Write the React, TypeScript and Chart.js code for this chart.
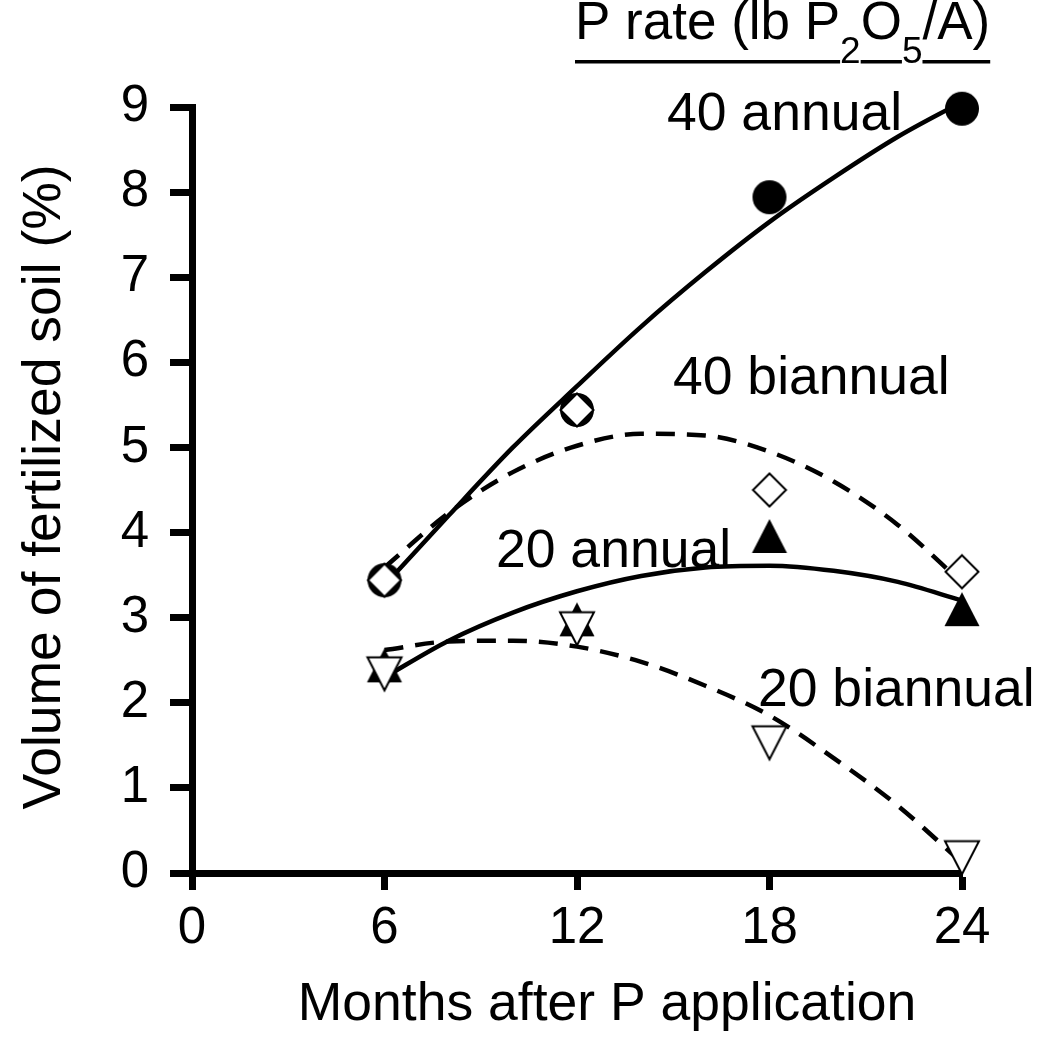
import { useEffect, useRef } from "react";
import { Chart, registerables } from "chart.js";

Chart.register(...registerables);

const FONT = "'Liberation Sans', Arial, Helvetica, sans-serif";

// Sampling times (months after P application)
const months = [6, 12, 18, 24];

// Measured volume of fertilized soil (%)
const annual40 = [3.44, 5.44, 7.94, 8.98];
const biannual40 = [3.44, 5.44, 4.5, 3.54];
const annual20 = [2.44, 2.98, 3.96, 3.1];
const biannual20 = [2.34, 2.87, 1.53, 0.18];

// Fitted trend curves, sampled every two months
const curveMonths = [6, 8, 10, 12, 14, 16, 18, 20, 22, 24];
const annual40Fit = [3.38, 4.2, 5.0, 5.72, 6.42, 7.06, 7.65, 8.17, 8.65, 9.06];
const biannual40Fit = [3.59, 4.23, 4.71, 5.02, 5.16, 5.14, 4.95, 4.6, 4.09, 3.41];
const annual20Fit = [2.3, 2.73, 3.06, 3.31, 3.49, 3.59, 3.61, 3.55, 3.42, 3.2];
const biannual20Fit = [2.62, 2.72, 2.73, 2.66, 2.48, 2.2, 1.85, 1.35, 0.79, 0.12];

// Axis ticks
const xTicks = [0, 6, 12, 18, 24];
const yTicks = [0, 1, 2, 3, 4, 5, 6, 7, 8, 9];

// Text
const seriesLabels = ["40 annual", "40 biannual", "20 annual", "20 biannual"];
const xTitle = "Months after P application";
const yTitle = "Volume of fertilized soil (%)";
const legendTitle: { text: string; sub: boolean }[] = [
  { text: "P rate (lb P", sub: false },
  { text: "2", sub: true },
  { text: "O", sub: false },
  { text: "5", sub: true },
  { text: "/A)", sub: false },
];

const toPoints = (xs: number[], ys: number[]) => xs.map((x, i) => ({ x, y: ys[i] }));

type MarkerKind = "disc" | "diamond" | "tri" | "invtri";

function makeMarker(kind: MarkerKind): HTMLCanvasElement {
  const c = document.createElement("canvas");
  c.width = 40;
  c.height = 40;
  const g = c.getContext("2d")!;
  g.lineWidth = 2;
  g.strokeStyle = "#000";
  g.beginPath();
  if (kind === "disc") {
    g.arc(20, 20, 17, 0, Math.PI * 2);
    g.fillStyle = "#000";
    g.fill();
    return c;
  }
  if (kind === "diamond") {
    g.moveTo(20, 3.5);
    g.lineTo(36.5, 20);
    g.lineTo(20, 36.5);
    g.lineTo(3.5, 20);
    g.closePath();
    g.fillStyle = "#fff";
    g.fill();
    g.stroke();
    return c;
  }
  if (kind === "tri") {
    g.moveTo(20, 3);
    g.lineTo(37.5, 37);
    g.lineTo(2.5, 37);
    g.closePath();
    g.fillStyle = "#000";
    g.fill();
    return c;
  }
  g.moveTo(3, 3.5);
  g.lineTo(37, 3.5);
  g.lineTo(20, 36.5);
  g.closePath();
  g.fillStyle = "#fff";
  g.fill();
  g.stroke();
  return c;
}

const labelLayout: [number, number][] = [
  [667, 130],
  [673, 394],
  [496, 567],
  [758, 706],
];

const textPlugin = {
  id: "figureText",
  afterDraw(chart: Chart) {
    const ctx = chart.ctx;
    ctx.save();
    ctx.fillStyle = "#000";
    ctx.textBaseline = "alphabetic";

    // series labels
    ctx.font = `53.5px ${FONT}`;
    ctx.textAlign = "left";
    seriesLabels.forEach((t, i) => ctx.fillText(t, labelLayout[i][0], labelLayout[i][1]));

    // x axis title
    ctx.textAlign = "center";
    ctx.fillText(xTitle, 607, 1020);

    // y axis title
    ctx.save();
    ctx.translate(60, 487);
    ctx.rotate(-Math.PI / 2);
    ctx.fillText(yTitle, 0, 0);
    ctx.restore();

    // underlined legend heading with subscripts
    ctx.textAlign = "left";
    let x = 575;
    for (const piece of legendTitle) {
      ctx.font = piece.sub ? `37px ${FONT}` : `53px ${FONT}`;
      const w = ctx.measureText(piece.text).width;
      ctx.fillText(piece.text, x, piece.sub ? 63 : 39);
      if (!piece.sub) ctx.fillRect(x, 60, w, 3.5);
      x += w;
    }
    ctx.restore();
  },
};

export default function App() {
  const ref = useRef<HTMLCanvasElement>(null);

  useEffect(() => {
    const disc = makeMarker("disc");
    const diamond = makeMarker("diamond");
    const tri = makeMarker("tri");
    const invtri = makeMarker("invtri");

    const curve = (ys: number[], dashed: boolean, order: number) => ({
      type: "line" as const,
      data: toPoints(curveMonths, ys),
      borderColor: "#000",
      borderWidth: 4.5,
      borderDash: dashed ? [19, 12] : [],
      pointRadius: 0,
      cubicInterpolationMode: "monotone" as const,
      fill: false,
      showLine: true,
      order,
      clip: false as const,
    });

    const marks = (ys: number[], style: HTMLCanvasElement, order: number) => ({
      type: "scatter" as const,
      data: toPoints(months, ys),
      pointStyle: style,
      pointRadius: 17,
      order,
      clip: false as const,
    });

    const tickFont = { family: FONT, size: 51 };

    const chart = new Chart(ref.current!, {
      type: "scatter",
      data: {
        datasets: [
          curve(annual40Fit, false, 10),
          curve(biannual40Fit, true, 11),
          curve(annual20Fit, false, 12),
          curve(biannual20Fit, true, 13),
          marks(annual40, disc, 4),
          marks(biannual40, diamond, 3),
          marks(annual20, tri, 2),
          marks(biannual20, invtri, 1),
        ] as any,
      },
      options: {
        animation: false,
        responsive: false,
        devicePixelRatio: 1,
        events: [],
        layout: { padding: { top: 107, right: 91, bottom: 0, left: 0 } },
        plugins: {
          legend: { display: false },
          tooltip: { enabled: false },
        },
        scales: {
          x: {
            type: "linear",
            min: 0,
            max: 24,
            afterFit: (s: any) => {
              s.height = 178;
            },
            afterBuildTicks: (s: any) => {
              s.ticks = xTicks.map((v) => ({ value: v }));
            },
            grid: {
              drawOnChartArea: false,
              drawTicks: true,
              tickLength: 17,
              tickWidth: 7,
              tickColor: "#000",
            },
            border: { display: true, color: "#000", width: 7 },
            ticks: {
              color: "#000",
              font: tickFont,
              padding: 8,
              maxRotation: 0,
              autoSkip: false,
            },
          },
          y: {
            type: "linear",
            min: 0,
            max: 9,
            afterFit: (s: any) => {
              s.width = 192;
            },
            afterBuildTicks: (s: any) => {
              s.ticks = yTicks.map((v) => ({ value: v }));
            },
            grid: {
              drawOnChartArea: false,
              drawTicks: true,
              tickLength: 22,
              tickWidth: 7,
              tickColor: "#000",
            },
            border: { display: true, color: "#000", width: 7 },
            ticks: {
              color: "#000",
              font: tickFont,
              padding: 21,
              autoSkip: false,
            },
          },
        },
      },
      plugins: [textPlugin],
    });

    return () => chart.destroy();
  }, []);

  return (
    <div style={{ position: "absolute", left: 0, top: 0, width: 1053, height: 1051, background: "#fff" }}>
      <canvas ref={ref} width={1053} height={1051} style={{ display: "block", width: 1053, height: 1051 }} />
    </div>
  );
}
